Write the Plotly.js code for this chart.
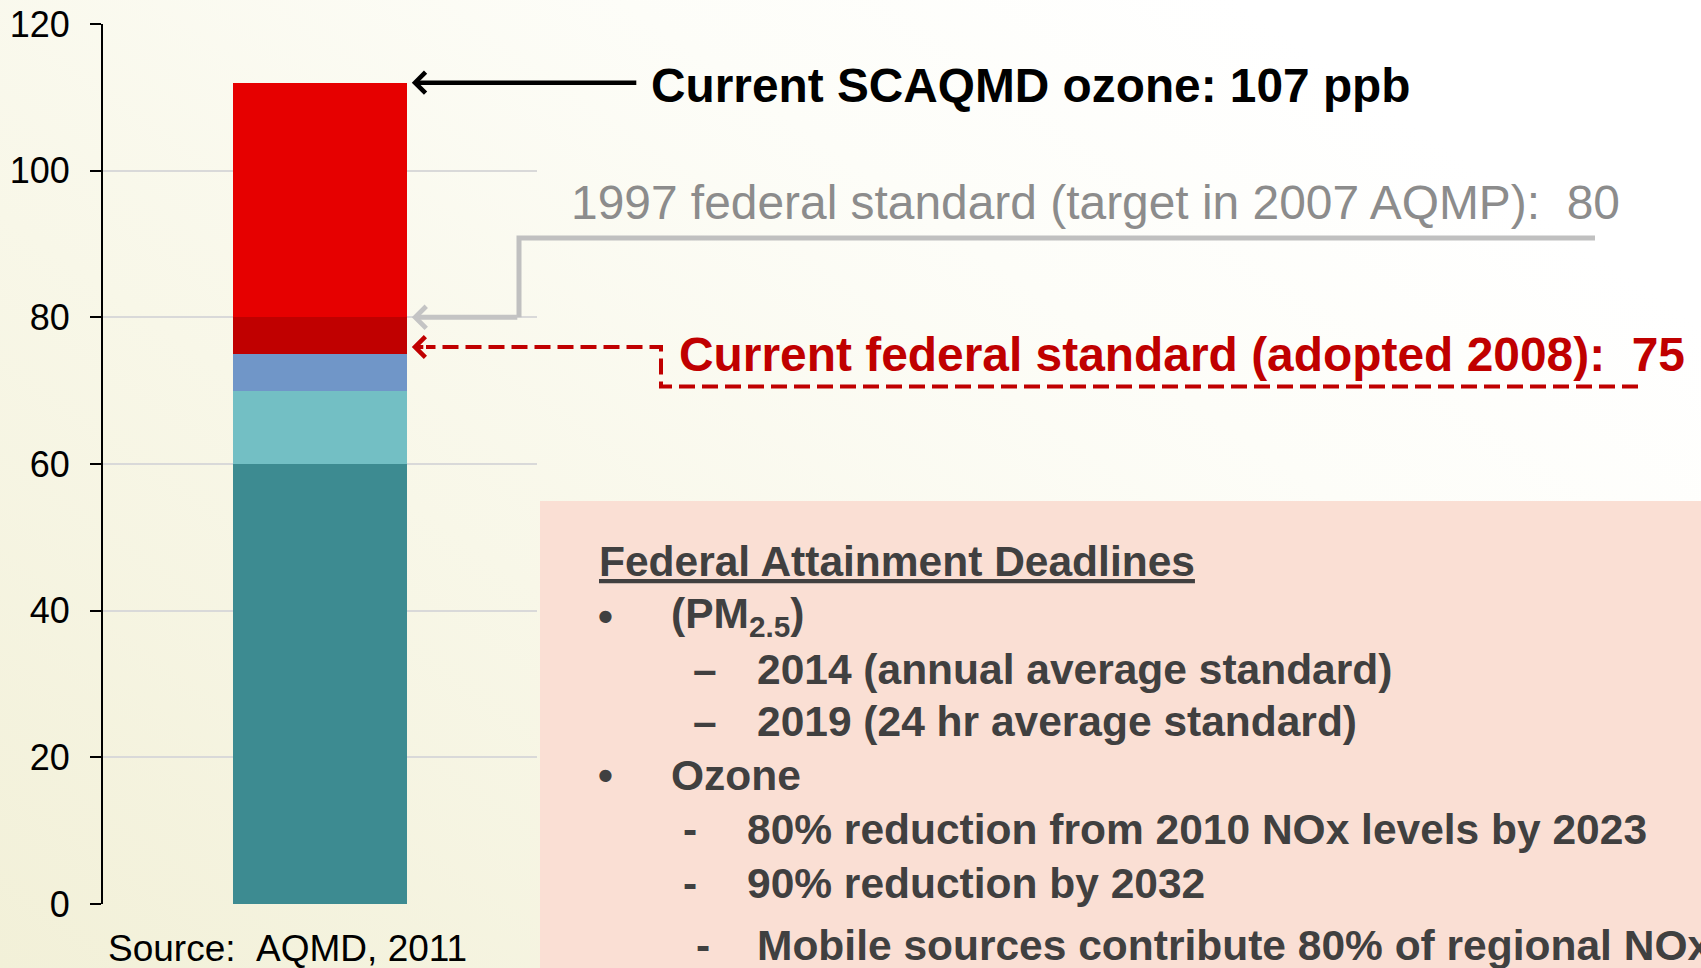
<!DOCTYPE html>
<html>
<head>
<meta charset="utf-8">
<script src="https://cdn.plot.ly/plotly-3.0.1.min.js"></script>
<style>
  html, body { margin: 0; padding: 0; }
  #chart {
    width: 1701px; height: 968px;
    background: linear-gradient(35deg, #f2f0d8 0%, #f8f7e8 35%, #fdfdf8 65%, #ffffff 85%);
  }
</style>
</head>
<body>
<div id="chart"></div>
<script>
// ---- data ----
const categories = ['Ozone'];
const segmentNames = ['0–60 ppb', '60–70 ppb', '70–75 ppb', '75–80 ppb', '80–112 ppb'];
const segmentValues = [60, 10, 5, 5, 32];
const segmentColors = ['#3d8b91', '#73bfc4', '#7096c8', '#c00000', '#e60000'];
const yTickValues = [0, 20, 40, 60, 80, 100, 120];
const barTop = 112;            // top of stacked bar
const std1997 = 80;            // 1997 federal standard
const std2008 = 75;            // current federal standard

const labelCurrent = 'Current SCAQMD ozone: 107 ppb';
const label1997 = '1997 federal standard (target in 2007 AQMP):\u00a0\u00a080';
const label2008 = 'Current federal standard (adopted 2008):\u00a0\u00a075';
const sourceText = 'Source:\u00a0\u00a0AQMD, 2011';
const boxHeader = 'Federal Attainment Deadlines';
const boxMarkers = ['•', '–', '–', '•', '-', '-', '-'];
const boxItems = [
  '(PM<sub>2.5</sub>)',
  '2014 (annual average standard)',
  '2019 (24 hr average standard)',
  'Ozone',
  '80% reduction from 2010 NOx levels by 2023',
  '90% reduction by 2032',
  'Mobile sources contribute 80% of regional NOx'
];

// ---- layout geometry (pixels) ----
const L = 103, T = 24, PW = 434, PH = 880;
const px = v => (v - L) / PW;
const py = v => (T + PH - v) / PH;
const FONT = 'Liberation Sans, Arial, sans-serif';

const traces = segmentValues.map((v, i) => ({
  type: 'bar',
  x: categories,
  y: [v],
  name: segmentNames[i],
  width: 0.4,
  marker: { color: segmentColors[i], line: { width: 0 } },
  hoverinfo: 'name+y'
}));

const boxX = { marker: [605, 705, 705, 605, 690, 690, 703], text: [669, 755, 755, 669, 745, 745, 755] };
const boxY = [616, 669, 721, 775, 829, 883, 945];

const annotations = [];
function txt(text, xpx, ypx, size, color, bold, anchor) {
  annotations.push({
    xref: 'paper', yref: 'paper', x: px(xpx), y: py(ypx),
    xanchor: anchor || 'left', yanchor: 'middle', showarrow: false,
    text: bold ? '<b>' + text + '</b>' : text,
    font: { family: FONT, size: size, color: color }
  });
}
txt(labelCurrent, 649, 86, 47.8, '#000000', true);
txt(label1997, 569, 203, 47.9, '#8c8c8c', false);
txt(label2008, 677, 355, 47.9, '#c00000', true);
txt(sourceText, 106, 949, 37, '#000000', false);
txt('<u>' + boxHeader + '</u>', 597, 561, 42.5, '#404040', true);
boxItems.forEach((t, i) => {
  txt(boxMarkers[i], boxX.marker[i], boxY[i], 42.5, '#404040', true, 'center');
  txt(t, boxX.text[i], boxY[i], 42.5, '#404040', true);
});

// arrows
annotations.push({ xref: 'x', yref: 'y', x: 0.2, y: barTop, ax: 231, ay: 0, text: '',
  showarrow: true, arrowhead: 4, arrowwidth: 4.5, arrowsize: 0.9, arrowcolor: '#000000', standoff: 5 });
annotations.push({ xref: 'x', yref: 'y', x: 0.2, y: std1997, ax: 112, ay: 0, text: '',
  showarrow: true, arrowhead: 4, arrowwidth: 5, arrowsize: 0.85, arrowcolor: '#c4c4c4', standoff: 5 });
annotations.push({ xref: 'x', yref: 'y', x: 0.2, y: std2008, ax: 18, ay: 0, yshift: 7, text: '',
  showarrow: true, arrowhead: 4, arrowwidth: 4, arrowsize: 1, arrowcolor: '#c00000', standoff: 5 });

const y75 = py(347);
const shapes = [
  { type: 'rect', xref: 'paper', yref: 'paper', layer: 'below',
    x0: px(540), x1: px(1710), y0: py(501), y1: py(975),
    fillcolor: '#fadfd4', line: { width: 0 } },
  { type: 'path', xref: 'paper', yref: 'paper',
    path: `M ${px(1595)},${py(238)} L ${px(519)},${py(238)} L ${px(519)},${std1997 / 120}`,
    line: { color: '#c0c0c0', width: 5 } },
  { type: 'path', xref: 'paper', yref: 'paper',
    path: `M ${px(1638)},${py(386.5)} L ${px(661)},${py(386.5)} L ${px(661)},${y75} L ${px(426)},${y75}`,
    line: { color: '#c00000', width: 4, dash: '16px,7px' } }
];

const layout = {
  width: 1701, height: 968, autosize: false,
  margin: { l: L, r: 1701 - L - PW, t: T, b: 968 - T - PH, pad: 0 },
  paper_bgcolor: 'rgba(0,0,0,0)', plot_bgcolor: 'rgba(0,0,0,0)',
  barmode: 'stack', showlegend: false,
  font: { family: FONT },
  xaxis: { type: 'category', range: [-0.5, 0.5], showticklabels: false, showgrid: false,
    zeroline: false, showline: false, ticks: '', fixedrange: true },
  yaxis: { range: [0, 120], tickvals: yTickValues, ticktext: yTickValues.map(String),
    tickfont: { family: FONT, size: 36, color: '#000000' },
    ticks: 'outside', ticklen: 11, tickwidth: 2, tickcolor: '#000000',
    showline: true, linecolor: '#000000', linewidth: 2,
    showgrid: true, gridcolor: '#d9d9d9', gridwidth: 2, zeroline: false,
    ticklabelstandoff: 13, fixedrange: true },
  shapes: shapes,
  annotations: annotations
};

Plotly.newPlot('chart', traces, layout, { displayModeBar: false, staticPlot: true });
</script>
</body>
</html>
